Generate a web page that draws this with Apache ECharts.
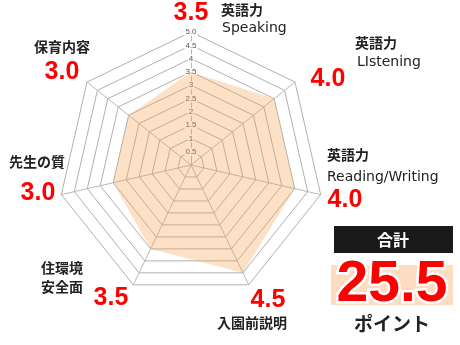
<!DOCTYPE html>
<html>
<head>
<meta charset="utf-8">
<script src="https://cdn.jsdelivr.net/npm/echarts@6/dist/echarts.min.js"></script>
<style>
  html, body { margin: 0; padding: 0; background: #fff; }
  #chart { width: 460px; height: 345px; }
</style>
</head>
<body>
<div id="chart"></div>
<script>
// Evaluation items, clockwise from the top
var categories = ['英語力\nSpeaking', '英語力\nLIstening', '英語力\nReading/Writing', '入園前説明', '住環境\n安全面', '先生の質', '保育内容'];
var scores = [3.5, 4.0, 4.0, 4.5, 3.5, 3.0, 3.0];
var scaleTicks = [0.5, 1, 1.5, 2, 2.5, 3, 3.5, 4, 4.5, 5];
var maxScore = 5;

var chart = echarts.init(document.getElementById('chart'));

// ECharts lays radar indicators out counter-clockwise, so walk the list backwards after the first
var order = [0];
for (var i = categories.length - 1; i > 0; i--) order.push(i);

var indicator = order.map(function (i) { return { name: categories[i], max: maxScore, min: 0 }; });
var radarValues = order.map(function (i) { return scores[i]; });
var total = scores.reduce(function (a, b) { return a + b; }, 0);

var JP = '"Noto Sans CJK JP", sans-serif';
var NUM = '"Liberation Sans", Arial, sans-serif';
var LATIN = '"DejaVu Sans", sans-serif';
var RED = '#ff0000';

// Where each item's caption and score sit, clockwise from the top
var captionPos = [
  { name: [221, 10, 'left'], sub: [222, 28, 'left'], val: [191, 13, 'center'] },
  { name: [355, 43, 'left'], sub: [357, 62, 'left'], val: [328, 79, 'center'] },
  { name: [327, 155, 'left'], sub: [327, 177, 'left'], val: [345, 200, 'center'] },
  { name: [252, 323, 'center'], val: [268, 300, 'center'] },
  { name: [62, 268, 'center'], sub: [62, 287, 'center'], val: [111, 298, 'center'] },
  { name: [37, 162, 'center'], val: [38, 193, 'center'] },
  { name: [62, 47, 'center'], val: [62, 72, 'center'] }
];

var graphics = [];
categories.forEach(function (c, i) {
  var parts = c.split('\n');
  var p = captionPos[i];
  var isEnglish = p.sub && /[A-Za-z]/.test(parts[1] || '');
  graphics.push({
    type: 'text', x: p.name[0], y: p.name[1], z: 10,
    style: { text: parts[0], font: 'bold 14px ' + JP, fill: '#222', align: p.name[2], verticalAlign: 'middle' }
  });
  if (p.sub) {
    graphics.push({
      type: 'text', x: p.sub[0], y: p.sub[1], z: 10,
      style: {
        text: parts[1],
        font: isEnglish ? '14px ' + LATIN : 'bold 14px ' + JP,
        fill: '#222', align: p.sub[2], verticalAlign: 'middle'
      }
    });
  }
  graphics.push({
    type: 'text', x: p.val[0], y: p.val[1], z: 10,
    style: { text: scores[i].toFixed(1), font: 'bold 25px ' + NUM, fill: RED, align: p.val[2], verticalAlign: 'middle' }
  });
});

// Total panel
graphics.push(
  { type: 'rect', shape: { x: 334, y: 226, width: 119, height: 27 }, style: { fill: '#1a1a1a' }, z: 10 },
  { type: 'text', x: 393, y: 240, z: 11,
    style: { text: '合計', font: 'bold 16px ' + JP, fill: '#fff', align: 'center', verticalAlign: 'middle' } },
  { type: 'rect', shape: { x: 331, y: 265, width: 122, height: 40 }, style: { fill: '#fddcc0' }, z: 10 },
  { type: 'text', x: 392, y: 285, z: 11,
    style: { text: total.toFixed(1), font: 'bold 57px ' + NUM, fill: RED, stroke: '#fff', lineWidth: 5,
             align: 'center', verticalAlign: 'middle' } },
  { type: 'text', x: 392, y: 324, z: 11,
    style: { text: 'ポイント', font: 'bold 19px ' + JP, fill: '#222', align: 'center', verticalAlign: 'middle' } }
);

chart.setOption({
  animation: false,
  radar: {
    center: [191, 165],
    radius: 133,
    startAngle: 90,
    splitNumber: scaleTicks.length,
    shape: 'polygon',
    indicator: indicator,
    axisName: { show: false },
    axisLine: { lineStyle: { color: '#b8b8b8', width: 1 } },
    splitLine: { lineStyle: { color: '#b0b0b0', width: 1 } },
    splitArea: { show: false },
    axisLabel: { show: false }
  },
  // Scale labels along the top spoke
  polar: { center: [191, 165], radius: 133 },
  angleAxis: { type: 'value', startAngle: 90, show: false, min: 0, max: 360 },
  radiusAxis: {
    type: 'value', min: 0, max: maxScore, interval: scaleTicks[1] - scaleTicks[0], z: 1,
    axisLine: { show: false }, axisTick: { show: false }, splitLine: { show: false },
    axisLabel: {
      showMinLabel: false, margin: 0, align: 'center', verticalAlign: 'middle',
      fontSize: 8, color: '#555', fontFamily: NUM,
      backgroundColor: '#fff', padding: [0, 1],
      formatter: function (v) {
        var t = scaleTicks.indexOf(v);
        if (t < 0) return '';
        return v === maxScore ? v.toFixed(1) : String(v);
      }
    }
  },
  series: [{
    type: 'radar',
    z: 2,
    symbol: 'none',
    lineStyle: { width: 0, opacity: 0 },
    areaStyle: { color: 'rgba(250,160,80,0.45)' },
    data: [{ value: radarValues }]
  }],
  graphic: graphics
});
</script>
</body>
</html>
